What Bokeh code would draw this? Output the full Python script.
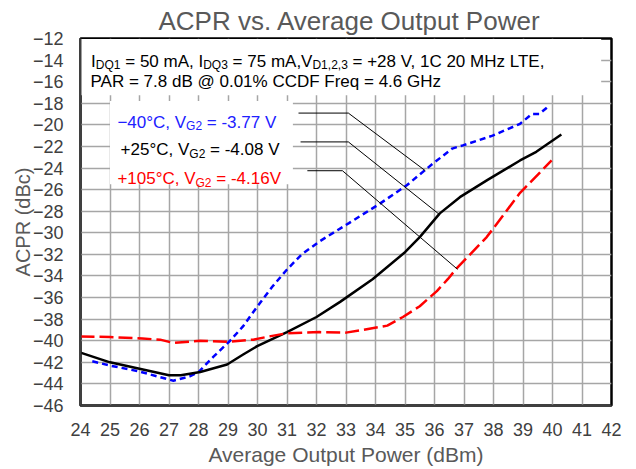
from bokeh.plotting import figure
from bokeh.models import Range1d, FixedTicker, ColumnDataSource, Title
from bokeh.embed import file_html
from bokeh.resources import INLINE
from bokeh.core.properties import value

# ---------------- data ----------------
x_ticks = list(range(24, 43))
y_ticks = list(range(-46, -11, 2))

pout_m40 = [24.4, 25.0, 26.0, 27.0, 27.15, 27.7, 28.0, 28.5, 29.07, 29.5, 30.0, 30.5, 31.0, 31.5,
            32.1, 33.1, 34.15, 35.06, 35.94, 36.6, 36.96, 37.97, 38.9, 39.3, 39.55, 39.9]
acpr_m40 = [-41.9, -42.3, -42.85, -43.6, -43.7, -43.3, -42.9, -41.5, -40.0, -38.7, -36.8, -35.0, -33.4, -32.0,
            -30.8, -29.1, -27.3, -25.6, -23.6, -22.2, -21.9, -21.0, -19.9, -19.0, -19.0, -18.2]

pout_25 = [24.0, 25.0, 26.0, 27.0, 27.4, 28.06, 28.97, 29.5, 29.99, 31.0, 32.0, 32.8, 33.9, 35.0,
           35.5, 36.18, 36.86, 37.8, 38.9, 39.45, 40.3]
acpr_25 = [-41.1, -42.0, -42.6, -43.2, -43.2, -42.9, -42.2, -41.3, -40.5, -39.2, -37.8, -36.4, -34.3, -31.8,
           -30.4, -28.2, -26.7, -25.1, -23.3, -22.5, -20.9]

pout_105 = [24.0, 25.0, 26.1, 26.7, 27.15, 28.06, 28.97, 29.86, 30.4, 31.0, 32.1, 33.0, 33.57, 34.4,
            34.93, 35.5, 36.08, 36.45, 36.75, 37.77, 38.9, 39.97]
acpr_105 = [-39.6, -39.65, -39.8, -39.9, -40.2, -40.0, -40.1, -39.9, -39.6, -39.3, -39.2, -39.25, -39.0, -38.6,
            -37.8, -36.8, -35.4, -34.3, -33.3, -30.4, -26.3, -23.3]

title_text = "ACPR vs. Average Output Power"
x_label = "Average Output Power (dBm)"
y_label = "ACPR (dBc)"

NB = "\u00a0"  # non-collapsing space for SVG text pieces
legend_lines = [
    [("\u221240\u00b0C, V", False), ("G2", True), (NB + "= -3.77 V", False)],
    [("+25\u00b0C, V", False), ("G2", True), (NB + "= -4.08 V", False)],
    [("+105\u00b0C, V", False), ("G2", True), (NB + "= -4.16V", False)],
]
legend_colors = ["#2020ff", "#000000", "#ff0000"]

note_lines = [
    [("I", False), ("DQ1", True), (NB + "= 50 mA, I", False), ("DQ3", True), (NB + "= 75 mA,V", False),
     ("D1,2,3", True), (NB + "= +28 V, 1C 20 MHz LTE,", False)],
    [("PAR = 7.8 dB @ 0.01% CCDF Freq = 4.6 GHz", False)],
]

# leader lines (label -> curve)
lead_m40_x = [31.39, 33.08, 35.69]
lead_m40_y = [-18.91, -18.91, -24.25]
lead_25_x = [31.46, 33.08, 36.17]
lead_25_y = [-21.58, -21.58, -28.31]
lead_105_x = [31.69, 32.88, 36.78]
lead_105_y = [-24.25, -24.25, -33.38]

# ---------------- layout helpers ----------------
W = {' ': 278, NB: 278, ',': 278, '.': 278, '-': 333, '\u2212': 584, '+': 584, '=': 584, '\u00b0': 400,
     '%': 889, '@': 1015, 'A': 667, 'B': 667, 'C': 722, 'D': 722, 'E': 667, 'F': 611, 'G': 778,
     'H': 722, 'I': 278, 'L': 556, 'M': 833, 'P': 667, 'Q': 778, 'R': 722, 'T': 611, 'V': 667,
     'z': 500, 'a': 556, 'd': 556, 'e': 556, 'm': 833, 'q': 556, 'r': 333}


def tw(s, px):
    return sum(W.get(c, 556) for c in s) * px / 1000.0


MAIN = 17
SUB = 12

p = figure(width=634, height=467, output_backend="svg", toolbar_location=None,
           x_range=Range1d(24, 42), y_range=Range1d(-46, -12),
           min_border_left=80, min_border_right=23, min_border_top=37, min_border_bottom=61)
p.background_fill_color = "white"
p.border_fill_color = "white"
p.outline_line_color = "black"
p.outline_line_width = 2.5

p.title.text = title_text
p.title.align = "left"
p.title.offset = 78
p.title.text_font = "Liberation Sans"
p.title.text_font_style = "normal"
p.title.text_font_size = "26px"
p.title.text_color = "#595959"
p.title.standoff = 6

for ax, tk in ((p.xaxis, x_ticks), (p.yaxis, y_ticks)):
    ax.ticker = FixedTicker(ticks=tk)
    ax.major_label_text_font = "Liberation Sans"
    ax.major_label_text_font_size = "18px"
    ax.major_label_text_color = "#404040"
    ax.major_tick_line_color = None
    ax.major_tick_out = 0
    ax.minor_tick_line_color = None
    ax.minor_tick_out = 0
    ax.axis_line_color = "#404040"
    ax.axis_line_width = 2
    ax.axis_label_text_font = "Liberation Sans"
    ax.axis_label_text_font_style = "normal"
    ax.axis_label_text_color = "#595959"

p.yaxis.axis_label = y_label
p.yaxis.axis_label_text_font_size = "20px"
p.xaxis.major_label_standoff = 17
p.yaxis.major_label_standoff = 17
p.yaxis.axis_label_standoff = -4

# x-axis title placed below the tick labels
p.add_layout(Title(text=x_label, align="center", text_font="Liberation Sans", text_font_style="normal",
                   text_font_size="21px", text_color="#595959", standoff=4), "below")

p.xgrid.ticker = FixedTicker(ticks=x_ticks)
p.ygrid.ticker = FixedTicker(ticks=y_ticks)
for g in (p.xgrid, p.ygrid):
    g.grid_line_color = "#a6a6a6"
    g.grid_line_width = 1.5

# curves
p.line(pout_m40, acpr_m40, line_color="#0000ff", line_width=2.5, line_dash="6 4")
p.line(pout_25, acpr_25, line_color="#000000", line_width=2.5)
p.line(pout_105, acpr_105, line_color="#ff0000", line_width=2.5, line_dash="14 5")

# white boxes (note box and legend box)
p.quad(left=[24.0], right=[41.65], top=[-12.05], bottom=[-17.25],
       fill_color="white", line_color=None)
p.quad(left=[25.0], right=[31.2], top=[-17.8], bottom=[-25.5],
       fill_color="white", line_color=None)

# leader lines
for lx, ly in ((lead_m40_x, lead_m40_y), (lead_25_x, lead_25_y), (lead_105_x, lead_105_y)):
    p.line(lx, ly, line_color="black", line_width=1)


# text made of pieces (normal + subscript)
def add_pieces(lines, xs, ys, colors):
    d = dict(x=[], y=[], text=[], dx=[], dy=[], fs=[], col=[])
    for line, x0, y0, c in zip(lines, xs, ys, colors):
        off = 0.0
        for t, sub in line:
            size = SUB if sub else MAIN
            d["x"].append(x0)
            d["y"].append(y0)
            d["text"].append(t)
            d["dx"].append(off)
            d["dy"].append(4 if sub else 0)
            d["fs"].append("%dpx" % size)
            d["col"].append(c)
            off += tw(t, size)
    src = ColumnDataSource(d)
    p.text(x="x", y="y", text="text", x_offset="dx", y_offset="dy", text_font_size="fs",
           text_color="col", text_font=value("Liberation Sans"), text_baseline="alphabetic",
           text_align="left", source=src)


add_pieces(legend_lines, [25.25, 25.36, 25.25], [-19.74, -22.32, -24.99], legend_colors)
add_pieces(note_lines, [24.36, 24.34], [-14.12, -16.0], ["#000000", "#000000"])

open("out.html", "w").write(file_html(p, INLINE))
